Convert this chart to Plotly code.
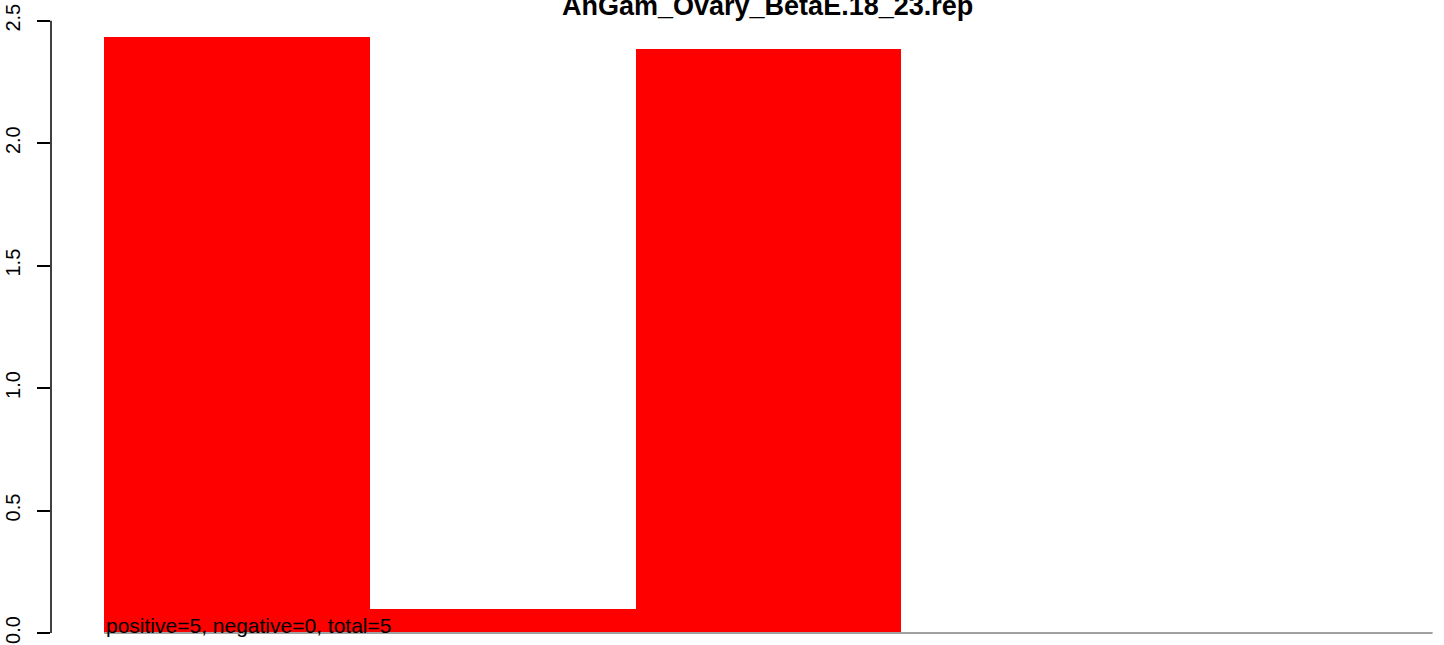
import plotly.graph_objects as go

# Data
title_text = "AnGam_Ovary_BetaE.18_23.rep"
bar_values = [2.435, 0.096, 2.386, 0.0, 0.0]
bar_positions = [0.5, 1.5, 2.5, 3.5, 4.5]
y_tick_values = [0.0, 0.5, 1.0, 1.5, 2.0, 2.5]
y_tick_labels = ["0.0", "0.5", "1.0", "1.5", "2.0", "2.5"]
summary_text = "positive=5, negative=0, total=5"

FONT = "Arial, Liberation Sans, sans-serif"
n = len(bar_values)

fig = go.Figure()
fig.add_trace(go.Bar(
    x=bar_positions, y=bar_values, width=1.0,
    marker=dict(color="#FF0000", line=dict(width=0)),
    showlegend=False, hoverinfo="skip",
))

# baseline of the bars (grey) from left edge of first bar to right edge of last bar
fig.add_shape(type="line", xref="x", yref="y", x0=0, x1=n, y0=0, y1=0,
              line=dict(color="#A0A0A0", width=2), layer="above")
# y axis line spanning from first to last tick
fig.add_shape(type="line", xref="paper", yref="y", x0=0, x1=0,
              y0=y_tick_values[0], y1=y_tick_values[-1],
              line=dict(color="black", width=1.5))

fig.add_annotation(text=summary_text, xref="x", yref="y", x=0, y=0,
                   xanchor="left", yanchor="bottom", showarrow=False,
                   font=dict(family=FONT, size=21, color="black"), yshift=-6)

fig.add_annotation(text="<b>" + title_text + "</b>", xref="paper", yref="paper",
                   x=0.5147, y=1, xanchor="center", yanchor="top", showarrow=False,
                   font=dict(family=FONT, size=27, color="black"), yshift=11)

fig.update_layout(
    width=1444, height=645,
    margin=dict(l=51, r=0, t=0, b=0),
    paper_bgcolor="white", plot_bgcolor="white",
    bargap=0,
    xaxis=dict(range=[-0.2, 5.043], showticklabels=False, showgrid=False,
               zeroline=False, showline=False, ticks=""),
    yaxis=dict(range=[-0.049, 2.5845], tickvals=y_tick_values, ticktext=y_tick_labels,
               ticks="outside", ticklen=13, tickwidth=1.5, tickcolor="black",
               tickangle=-90, ticklabelstandoff=9, showgrid=False, zeroline=False,
               showline=False, tickfont=dict(family=FONT, size=20, color="black")),
)

fig.write_html("out.html", config={"displayModeBar": False},
               post_script="document.body.style.margin='0';")
